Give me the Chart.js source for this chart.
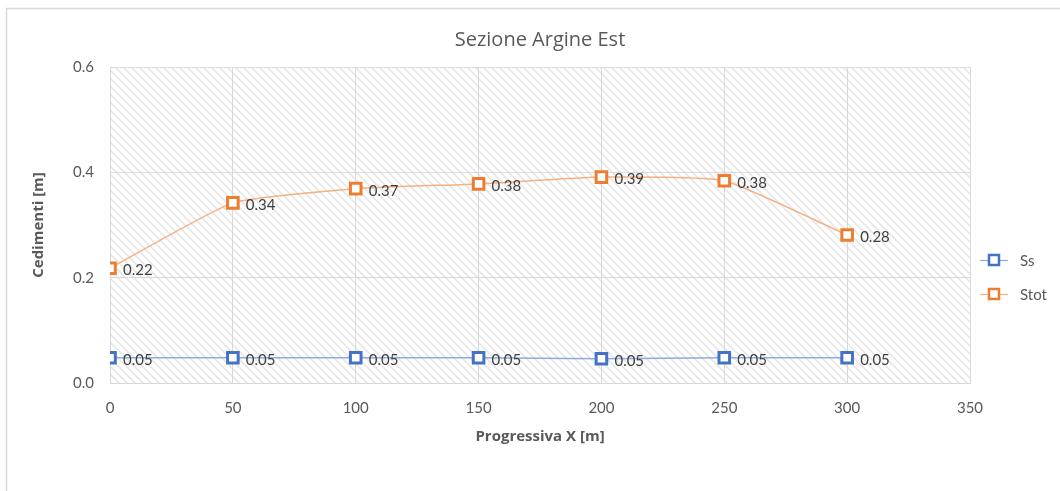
<!DOCTYPE html>
<html><head><meta charset="utf-8">
<script src="https://cdn.jsdelivr.net/npm/chart.js@4/dist/chart.umd.min.js"></script>
<style>html,body{margin:0;padding:0;background:#fff}#wrap{width:1060px;height:491px}</style>
</head><body><div id="wrap"><canvas id="c" width="1060" height="491"></canvas></div>
<script>
const chartTitle = 'Sezione Argine Est';
const xAxisTitle = 'Progressiva X [m]';
const yAxisTitle = 'Cedimenti [m]';
const progressiva = [0, 50, 100, 150, 200, 250, 300];
const ssValues = [0.048, 0.048, 0.048, 0.048, 0.046, 0.048, 0.048];
const stotValues = [0.218, 0.342, 0.369, 0.378, 0.391, 0.384, 0.281];
const seriesNames = ['Ss', 'Stot'];
const xTickValues = [0, 50, 100, 150, 200, 250, 300, 350];
const yTickValues = [0.0, 0.2, 0.4, 0.6];

const FONT = 'Lato, "Open Sans", sans-serif';
const FONT2 = '"Open Sans", Lato, sans-serif';
const colors = { Ss: '#4472c4', Stot: '#ed7d31' };
const lineColors = { Ss: '#8faadc', Stot: '#f4b183' };

function makeHatch() {
  const s = 8, cv = document.createElement('canvas');
  cv.width = s; cv.height = s;
  const g = cv.getContext('2d');
  g.fillStyle = '#ffffff'; g.fillRect(0, 0, s, s);
  g.strokeStyle = '#e8e8e8'; g.lineWidth = 1.8;
  g.beginPath();
  g.moveTo(-1, -1); g.lineTo(s + 1, s + 1);
  g.moveTo(-1, s - 1); g.lineTo(1, s + 1);
  g.moveTo(s - 1, -1); g.lineTo(s + 1, 1);
  g.stroke();
  return cv;
}

const bgPlugin = {
  id: 'bg',
  beforeDraw(chart) {
    const { ctx, chartArea: a } = chart;
    ctx.save();
    ctx.strokeStyle = '#d9d9d9'; ctx.lineWidth = 1.5;
    ctx.strokeRect(6.5, 8.5, chart.width + 20, chart.height + 20);
    ctx.fillStyle = ctx.createPattern(makeHatch(), 'repeat');
    ctx.fillRect(a.left, a.top, a.right - a.left, a.bottom - a.top);
    ctx.fillStyle = '#595959';
    ctx.font = '20px ' + FONT2;
    ctx.textAlign = 'center'; ctx.textBaseline = 'middle';
    ctx.fillText(chartTitle, 540, 40);
    ctx.restore();
  },
  afterDatasetsDraw(chart) {
    const { ctx } = chart;
    ctx.save();
    ctx.font = '15px ' + FONT;
    ctx.fillStyle = '#404040';
    ctx.textBaseline = 'middle';
    ctx.textAlign = 'left';
    chart.data.datasets.forEach((ds, i) => {
      const meta = chart.getDatasetMeta(i);
      meta.data.forEach((pt, j) => {
        ctx.fillText(ds.data[j].y.toFixed(2), pt.x + 13, pt.y + 2);
      });
    });
    const legendY = [260, 294];
    chart.data.datasets.forEach((ds, i) => {
      const y = legendY[i];
      const name = ds.label;
      ctx.strokeStyle = lineColors[name]; ctx.lineWidth = 1.2;
      ctx.beginPath(); ctx.moveTo(980, y + 0.5); ctx.lineTo(1008, y + 0.5); ctx.stroke();
      ctx.fillStyle = '#fff'; ctx.fillRect(989, y - 5, 10, 10);
      ctx.strokeStyle = colors[name]; ctx.lineWidth = 2.5;
      ctx.strokeRect(989, y - 5, 10, 10);
      ctx.fillStyle = '#595959';
      ctx.font = '15px ' + FONT;
      ctx.fillText(name, 1020, y + 1);
    });
    ctx.restore();
  }
};

const toPts = vals => progressiva.map((x, i) => ({ x: x, y: vals[i] }));

new Chart(document.getElementById('c'), {
  type: 'line',
  data: {
    datasets: [
      { label: seriesNames[0], data: toPts(ssValues), borderColor: lineColors.Ss, borderWidth: 1.5,
        pointStyle: 'rect', pointRadius: 7.5, pointBorderWidth: 3, pointBorderColor: colors.Ss,
        pointBackgroundColor: '#fff', tension: 0.15 },
      { label: seriesNames[1], data: toPts(stotValues), borderColor: lineColors.Stot, borderWidth: 1.5,
        pointStyle: 'rect', pointRadius: 7.5, pointBorderWidth: 3, pointBorderColor: colors.Stot,
        pointBackgroundColor: '#fff', tension: 0.15 }
    ]
  },
  options: {
    responsive: false,
    animation: false,
    layout: { padding: { left: 26, right: 90, top: 67, bottom: 38 } },
    plugins: {
      legend: { display: false },
      tooltip: { enabled: false },
      title: { display: false }
    },
    scales: {
      x: {
        type: 'linear', min: 0, max: 350,
        afterBuildTicks: s => { s.ticks = xTickValues.map(v => ({ value: v })); },
        afterFit: s => { s.height = 70; },
        grid: { color: '#d9d9d9', drawTicks: false },
        border: { color: '#d9d9d9' },
        ticks: { color: '#595959', font: { family: FONT, size: 15 }, padding: 16 },
        title: { display: true, text: xAxisTitle, color: '#595959',
          font: { family: FONT2, size: 15, weight: 'bold' }, padding: { top: 0, bottom: 7 } }
      },
      y: {
        min: 0, max: 0.6,
        afterBuildTicks: s => { s.ticks = yTickValues.map(v => ({ value: v })); },
        afterFit: s => { s.width = 84; },
        grid: { color: '#d9d9d9', drawTicks: false },
        border: { color: '#d9d9d9' },
        ticks: { color: '#595959', font: { family: FONT, size: 15 }, padding: 16,
          callback: v => v.toFixed(1) },
        title: { display: true, text: yAxisTitle, color: '#595959',
          font: { family: FONT2, size: 15, weight: 'bold' }, padding: { top: 4, bottom: 4 } }
      }
    }
  },
  plugins: [bgPlugin]
});
</script>
</body></html>
